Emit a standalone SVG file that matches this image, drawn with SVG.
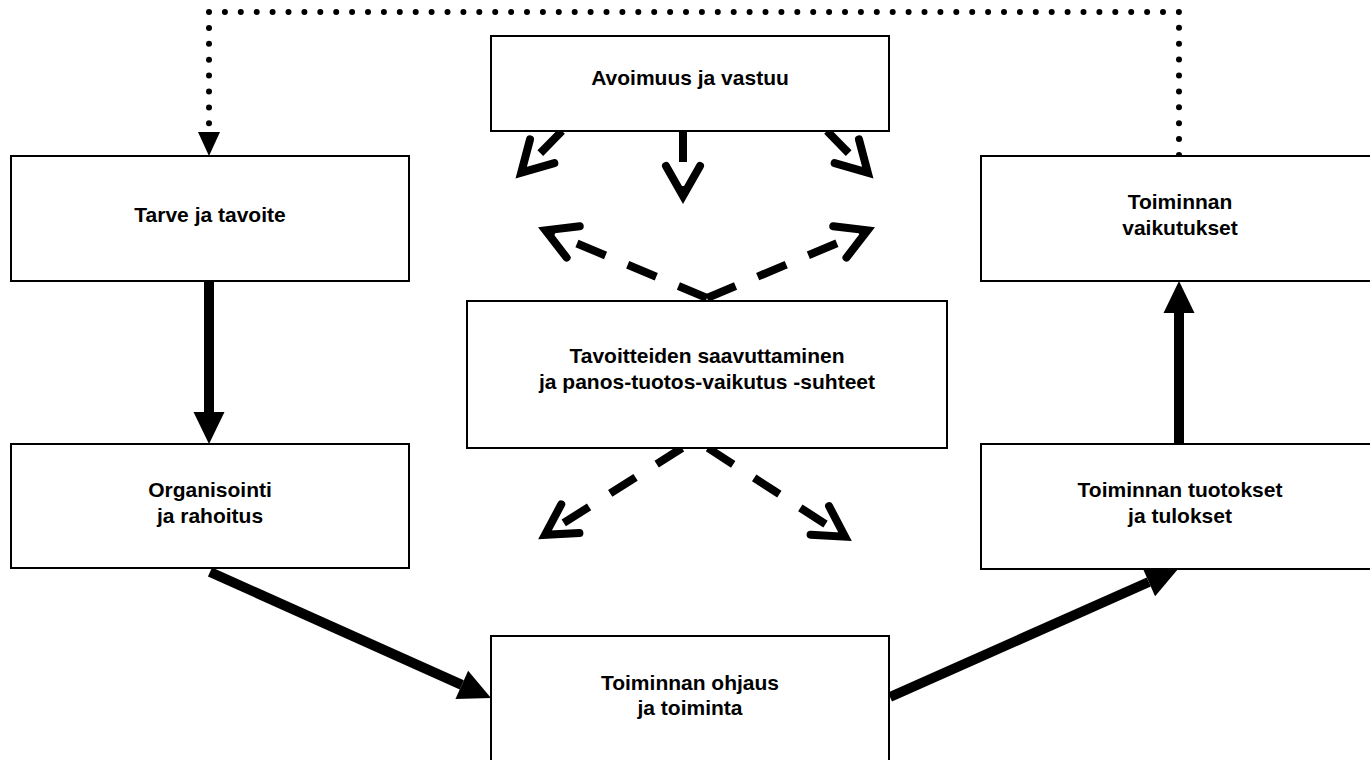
<svg xmlns="http://www.w3.org/2000/svg" width="1370" height="760" viewBox="0 0 1370 760">
  <style>
    .box { fill: #fff; stroke: #000; stroke-width: 2; }
    .lbl { font-family: "Liberation Sans", Arial, sans-serif; font-weight: bold; font-size: 21px; fill: #000; text-anchor: middle; }
    .solid { stroke: #000; stroke-width: 10; fill: none; }
    .dash { stroke: #000; stroke-width: 8; fill: none; stroke-dasharray: 31 24; stroke-linecap: butt; }
    .dash2 { stroke: #000; stroke-width: 8; fill: none; stroke-dasharray: 30 25; stroke-linecap: butt; }
    .dot { stroke: #000; stroke-width: 6; fill: none; stroke-dasharray: 0 15.9; stroke-linecap: round; }
  </style>
  <defs>
    <marker id="solidHead" markerUnits="userSpaceOnUse" markerWidth="40" markerHeight="40" viewBox="-2 -20 40 40" refX="0" refY="0" orient="auto" overflow="visible">
      <path d="M0,-15.5 L32,0 L0,15.5 Z" fill="#000"/>
    </marker>
    <marker id="dotHead" markerUnits="userSpaceOnUse" markerWidth="30" markerHeight="30" viewBox="-2 -15 30 30" refX="0" refY="0" orient="auto" overflow="visible">
      <path d="M0,-11 L24,0 L0,11 Z" fill="#000"/>
    </marker>
    <marker id="openHead" markerUnits="userSpaceOnUse" markerWidth="50" markerHeight="50" viewBox="-40 -25 50 50" refX="0" refY="0" orient="auto" overflow="visible">
      <path d="M-30,-17 L0,0 L-30,17" fill="none" stroke="#000" stroke-width="8" stroke-linecap="round" stroke-linejoin="miter"/>
    </marker>
  </defs>
  <rect width="1370" height="760" fill="#fff"/>

  <g id="connectors">
    <!-- dotted feedback loop -->
    <path class="dot" d="M1179,155 V12 H209 V132" marker-end="url(#dotHead)"/>
    <!-- solid flow arrows -->
    <line class="solid" x1="209" y1="282" x2="209" y2="412" marker-end="url(#solidHead)"/>
    <line class="solid" x1="1179" y1="443" x2="1179" y2="313" marker-end="url(#solidHead)"/>
    <line class="solid" x1="210" y1="572" x2="461.8" y2="684.9" marker-end="url(#solidHead)"/>
    <line class="solid" x1="890" y1="697" x2="1148.8" y2="582" marker-end="url(#solidHead)"/>
    <!-- dashed arrows from Avoimuus ja vastuu -->
    <line class="dash" x1="562" y1="131" x2="521.2" y2="172.7" marker-end="url(#openHead)"/>
    <line class="dash" x1="683" y1="131" x2="683" y2="196" marker-end="url(#openHead)"/>
    <line class="dash" x1="827" y1="131" x2="867.8" y2="172.7" marker-end="url(#openHead)"/>
    <!-- dashed arrows up from middle box -->
    <line class="dash" x1="707" y1="298" x2="545.5" y2="230.3" marker-end="url(#openHead)"/>
    <line class="dash" x1="707" y1="298" x2="867.5" y2="230.3" marker-end="url(#openHead)"/>
    <!-- dashed arrows down from middle box -->
    <line class="dash2" x1="682" y1="448" x2="545" y2="534.8" marker-end="url(#openHead)"/>
    <line class="dash2" x1="708" y1="448" x2="845" y2="536.7" marker-end="url(#openHead)"/>
  </g>

  <g id="avoimuus">
    <rect class="box" x="491" y="36" width="398" height="95"/>
    <text class="lbl" x="690" y="85">Avoimuus ja vastuu</text>
  </g>
  <g id="tarve">
    <rect class="box" x="11" y="156" width="398" height="125"/>
    <text class="lbl" x="210" y="222">Tarve ja tavoite</text>
  </g>
  <g id="vaikutukset">
    <rect class="box" x="981" y="156" width="398" height="125"/>
    <text class="lbl" x="1180" y="209">Toiminnan</text>
    <text class="lbl" x="1180" y="235">vaikutukset</text>
  </g>
  <g id="tavoitteiden">
    <rect class="box" x="467" y="301" width="480" height="147"/>
    <text class="lbl" x="707" y="363">Tavoitteiden saavuttaminen</text>
    <text class="lbl" x="707" y="389">ja panos-tuotos-vaikutus -suhteet</text>
  </g>
  <g id="organisointi">
    <rect class="box" x="11" y="444" width="398" height="124"/>
    <text class="lbl" x="210" y="497">Organisointi</text>
    <text class="lbl" x="210" y="523">ja rahoitus</text>
  </g>
  <g id="tuotokset">
    <rect class="box" x="981" y="444" width="398" height="125"/>
    <text class="lbl" x="1180" y="497">Toiminnan tuotokset</text>
    <text class="lbl" x="1180" y="523">ja tulokset</text>
  </g>
  <g id="ohjaus">
    <rect class="box" x="491" y="636" width="398" height="125"/>
    <text class="lbl" x="690" y="690">Toiminnan ohjaus</text>
    <text class="lbl" x="690" y="715">ja toiminta</text>
  </g>
</svg>
